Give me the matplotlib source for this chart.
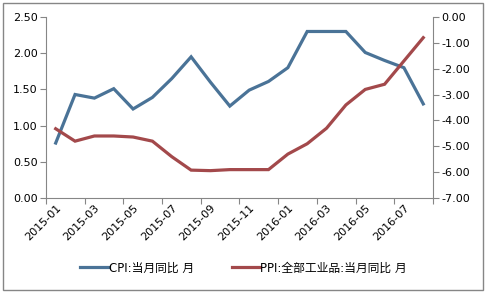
import numpy as np
import matplotlib
matplotlib.use("Agg")
import matplotlib.pyplot as plt
from matplotlib.patches import Rectangle
from matplotlib.lines import Line2D

plt.rcParams['font.family'] = ['DejaVu Sans', 'Noto Sans CJK SC']

months = ["2015-01", "2015-02", "2015-03", "2015-04", "2015-05", "2015-06",
          "2015-07", "2015-08", "2015-09", "2015-10", "2015-11", "2015-12",
          "2016-01", "2016-02", "2016-03", "2016-04", "2016-05", "2016-06",
          "2016-07", "2016-08"]
cpi = [0.76, 1.43, 1.38, 1.51, 1.23, 1.39, 1.65, 1.95, 1.60, 1.27, 1.49, 1.61,
       1.80, 2.30, 2.30, 2.30, 2.01, 1.90, 1.80, 1.30]
ppi = [-4.32, -4.80, -4.60, -4.60, -4.64, -4.80, -5.40, -5.92, -5.94, -5.90,
       -5.90, -5.90, -5.30, -4.90, -4.30, -3.40, -2.80, -2.60, -1.70, -0.80]
cpi_label = "CPI:当月同比 月"
ppi_label = "PPI:全部工业品:当月同比 月"

blue = "#4A7397"
red = "#A3494B"
axis_grey = "#868686"
fs = 8

fig = plt.figure(figsize=(4.87, 2.93), dpi=100)
ax = fig.add_axes([0.0945, 0.324, 0.7945, 0.618])
ax2 = ax.twinx()

x = np.arange(len(months))
ax.plot(x, cpi, color=blue, lw=2.3, solid_joinstyle='miter')
ax2.plot(x, ppi, color=red, lw=2.3, solid_joinstyle='miter')

ax.set_xlim(-0.5, len(months) - 0.5)
ax.set_ylim(0, 2.5)
ax.set_yticks(np.arange(0, 2.51, 0.5))
ax.set_yticklabels([f"{v:.2f}" for v in np.arange(0, 2.51, 0.5)])
ax2.set_ylim(-7, 0)
ax2.set_yticks(np.arange(-7, 0.01, 1))
ax2.set_yticklabels([f"{v:.2f}" for v in np.arange(-7, 0.01, 1)])

# category ticks between every two months, labels under the odd months
ax.set_xticks(np.arange(-0.5, len(months), 2), minor=False)
ax.set_xticklabels([])
ax.set_xticks(x[::2], minor=True)
ax.set_xticklabels(months[::2], minor=True, rotation=45, ha='right',
                   rotation_mode='anchor', fontsize=fs)
ax.tick_params(axis='x', which='minor', length=0, pad=3)
ax.tick_params(axis='x', which='major', length=4, color=axis_grey, direction='out')

for a in (ax, ax2):
    a.tick_params(axis='y', labelsize=fs, color=axis_grey, length=4, pad=2)
    for s in a.spines.values():
        s.set_color(axis_grey)
    a.spines['top'].set_visible(False)
ax.spines['right'].set_visible(False)
ax2.spines['left'].set_visible(False)
ax2.spines['bottom'].set_visible(False)

handles = [Line2D([], [], color=blue, lw=2.3), Line2D([], [], color=red, lw=2.3)]
fig.legend(handles, [cpi_label, ppi_label], loc='center', bbox_to_anchor=(0.5, 0.085),
           ncol=2, frameon=False, fontsize=8.5, handlelength=2.4, handletextpad=0.0,
           columnspacing=3.2)

fig.patches.append(Rectangle((0.006, 0.01), 0.985, 0.98, transform=fig.transFigure,
                             fill=False, edgecolor=axis_grey, lw=1.0))

fig.savefig("out.png", dpi=100)
